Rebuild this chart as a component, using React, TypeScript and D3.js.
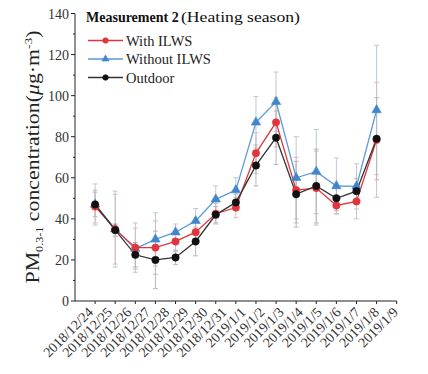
import React from "react";
import * as d3 from "d3";

// ─── Data ─────────────────────────────────────────────────────────────────────
const DATES = [
  "2018/12/24", "2018/12/25", "2018/12/26", "2018/12/27", "2018/12/28",
  "2018/12/29", "2018/12/30", "2018/12/31", "2019/1/1", "2019/1/2",
  "2019/1/3", "2019/1/4", "2019/1/5", "2019/1/6", "2019/1/7",
  "2019/1/8", "2019/1/9",
];

const WITH_ILWS = [46, 35, 26, 26, 29, 33.5, 42.5, 45.5, 72, 87, 54, 55, 46.5, 48.5, 78.5];
const WITHOUT_ILWS = [47, 35, 25.5, 30, 33.5, 39, 49.5, 54, 87, 97, 60, 63, 56, 55.8, 93];
const OUTDOOR = [47, 34.5, 22.5, 20, 21.2, 29, 42, 48, 66, 79.5, 52, 56, 50, 53.5, 79];

// half-width of the error bars
const WITH_ILWS_ERR = [8, 17, 12, 13, 5, 5, 5, 5, 10, 12, 16, 18, 4, 8.5, 28];
const WITHOUT_ILWS_ERR = [10, 18.5, 10, 13, 4, 6, 6.5, 6, 12.5, 14.5, 20, 20.5, 13.7, 11, 31.5];
const OUTDOOR_ERR = [6, 3, 6, 14, 3.5, 7, 4, 4, 10, 13, 16, 18, 6, 6, 20];

const Y_TICKS = [0, 20, 40, 60, 80, 100, 120, 140];

// ─── Design tokens ────────────────────────────────────────────────────────────
const FONT = "'Liberation Serif', 'Times New Roman', serif";
const RED = "#e0353d";
const BLUE = "#3f86cc";
const BLUE_LINE = "#5d9ad6";
const BLACK = "#111111";
const AXIS = "#222222";

type Series = {
  name: string;
  values: number[];
  err: number[];
  color: string;
  line: string;
  errColor: string;
  shape: "circle" | "triangle";
};

const SERIES: Series[] = [
  { name: "Without ILWS", values: WITHOUT_ILWS, err: WITHOUT_ILWS_ERR, color: BLUE, line: BLUE_LINE, errColor: "#bcc8d8", shape: "triangle" },
  { name: "With ILWS", values: WITH_ILWS, err: WITH_ILWS_ERR, color: RED, line: RED, errColor: "#d8bcbc", shape: "circle" },
  { name: "Outdoor", values: OUTDOOR, err: OUTDOOR_ERR, color: BLACK, line: "#333", errColor: "#b8b8b8", shape: "circle" },
];

const LEGEND_ORDER = ["With ILWS", "Without ILWS", "Outdoor"];

function Marker({ s, cx, cy, small }: { s: Series; cx: number; cy: number; small?: boolean }) {
  if (s.shape === "triangle") {
    const p = d3.symbol(d3.symbolTriangle, small ? 22 : 38)() as string;
    return <path d={p} transform={`translate(${cx},${cy})`} fill={s.color} stroke={s.color} strokeWidth={0.6} />;
  }
  return <circle cx={cx} cy={cy} r={small ? 2.8 : 3.7} fill={s.color} stroke={s.color} strokeWidth={0.6} />;
}

export default function App() {
  const x = d3.scaleLinear().domain([-1, 15]).range([75, 396.7]);
  const y = d3.scaleLinear().domain([0, 140]).range([301, 13.5]);
  const xLab = d3.scalePoint<string>().domain(DATES).range([94, 399]);

  const xTicks = d3.range(0, 16);
  const yMinor = d3.range(10, 140, 20);

  const line = d3
    .line<number>()
    .x((_, i) => x(i))
    .y((d) => y(d));

  return (
    <svg
      width={428}
      height={374}
      style={{ position: "absolute", left: 0, top: 0, background: "#fff", fontFamily: FONT }}
    >
      {/* ── Error bars ─────────────────────────────────────────────────── */}
      {SERIES.map((s) =>
        s.values.map((v, i) => {
          const cx = x(i);
          const y0 = y(v - s.err[i]);
          const y1 = y(v + s.err[i]);
          return (
            <g key={`${s.name}-e${i}`} stroke={s.errColor} strokeWidth={1}>
              <line x1={cx} x2={cx} y1={y0} y2={y1} />
              <line x1={cx - 2.5} x2={cx + 2.5} y1={y0} y2={y0} />
              <line x1={cx - 2.5} x2={cx + 2.5} y1={y1} y2={y1} />
            </g>
          );
        }),
      )}

      {/* ── Lines ──────────────────────────────────────────────────────── */}
      {SERIES.map((s) => (
        <path key={s.name} d={line(s.values) as string} fill="none" stroke={s.line} strokeWidth={1.3} />
      ))}

      {/* ── Markers ────────────────────────────────────────────────────── */}
      {SERIES.map((s) =>
        s.values.map((v, i) => <Marker key={`${s.name}-m${i}`} s={s} cx={x(i)} cy={y(v)} />),
      )}

      {/* ── Axes ───────────────────────────────────────────────────────── */}
      <g stroke={AXIS} strokeWidth={1}>
        <line x1={x(-1)} x2={x(-1)} y1={y(0)} y2={y(140)} />
        <line x1={x(-1)} x2={x(15)} y1={y(0)} y2={y(0)} />
        {Y_TICKS.map((t) => (
          <line key={`yt${t}`} x1={x(-1) - 4} x2={x(-1)} y1={y(t)} y2={y(t)} />
        ))}
        {yMinor.map((t) => (
          <line key={`ym${t}`} x1={x(-1) - 2} x2={x(-1)} y1={y(t)} y2={y(t)} />
        ))}
        {xTicks.map((t) => (
          <line key={`xt${t}`} x1={x(t)} x2={x(t)} y1={y(0)} y2={y(0) + 3} />
        ))}
      </g>

      {Y_TICKS.map((t) => (
        <text key={`yl${t}`} x={x(-1) - 6} y={y(t) + 5} textAnchor="end" fontSize={14} fill="#333">
          {t}
        </text>
      ))}

      {DATES.map((d) => (
        <text
          key={d}
          transform={`translate(${xLab(d)},313) rotate(-45)`}
          textAnchor="end"
          fontSize={14}
          fill="#333"
        >
          {d}
        </text>
      ))}

      {/* ── Axis title ─────────────────────────────────────────────────── */}
      <text
        transform="translate(39,157) rotate(-90)"
        textAnchor="middle"
        fontSize={18}
        fill="#222"
        textLength={253}
        lengthAdjust="spacingAndGlyphs"
      >
        PM<tspan fontSize={10} dy={4}>0.3-1</tspan>
        <tspan dy={-4}> concentration(</tspan>
        <tspan fontStyle="italic">μ</tspan>g·m<tspan fontSize={11} dy={-7}>-3</tspan>
        <tspan dy={7}>)</tspan>
      </text>

      {/* ── Legend ─────────────────────────────────────────────────────── */}
      <text x={86} y={22} fontSize={14} fontWeight="bold" fill="#111">
        Measurement 2
      </text>
      <text x={181} y={22} fontSize={15} fill="#111" textLength={119} lengthAdjust="spacingAndGlyphs">
        (Heating season)
      </text>
      {LEGEND_ORDER.map((name, k) => {
        const s = SERIES.find((q) => q.name === name)!;
        const ly = 40.5 + k * 18.5;
        return (
          <g key={`lg${name}`}>
            <line x1={88} x2={123} y1={ly} y2={ly} stroke={s.line} strokeWidth={1.3} />
            <Marker s={s} cx={105.5} cy={ly} small />
            <text x={126} y={ly + 5} fontSize={14.5} fill="#222">
              {name}
            </text>
          </g>
        );
      })}
    </svg>
  );
}
